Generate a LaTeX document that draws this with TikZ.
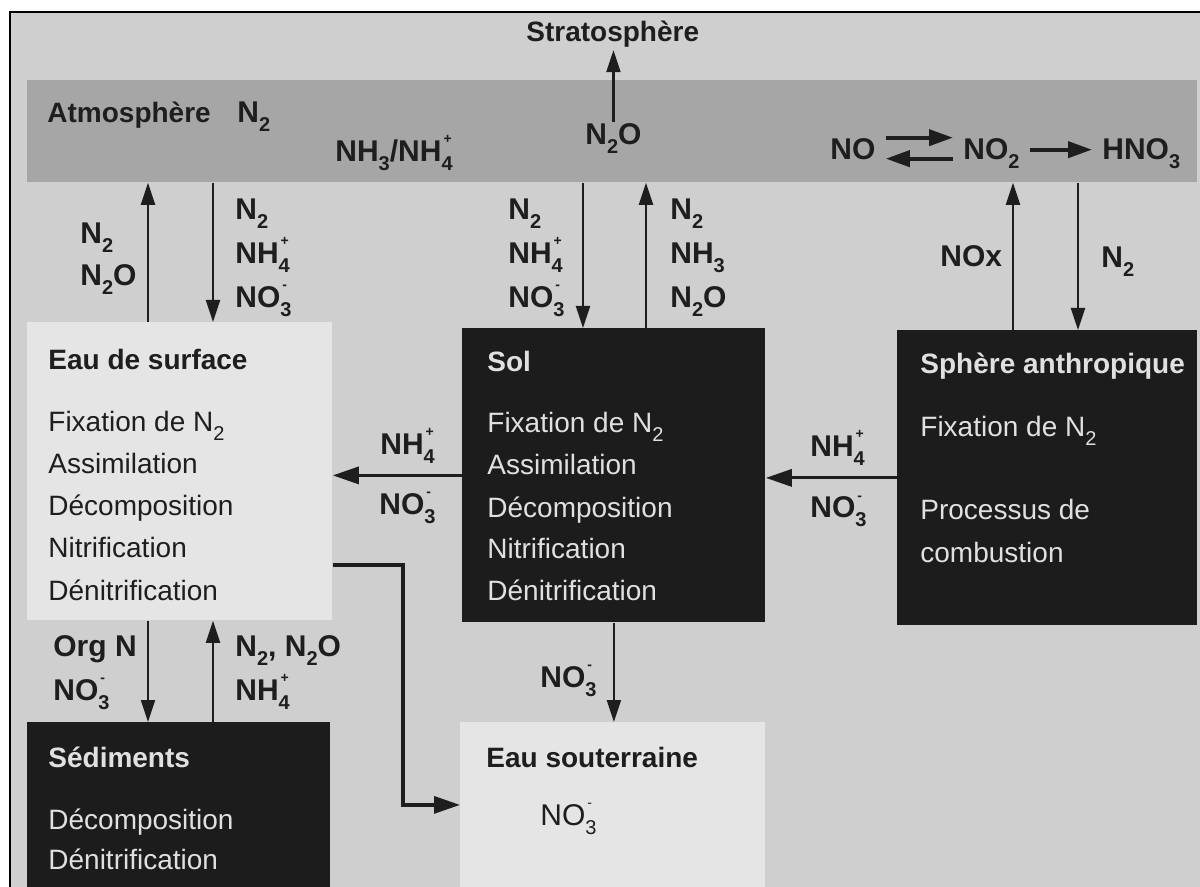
\documentclass[tikz,border=0pt]{standalone}
\usepackage{fontspec}
\setmainfont{Liberation Sans}
\usetikzlibrary{arrows.meta}
\definecolor{PaperGrey}{RGB}{207,207,207}
\definecolor{AirGrey}{RGB}{166,166,166}
\definecolor{WaterPale}{RGB}{229,229,229}
\definecolor{SoilDark}{RGB}{28,28,28}
\definecolor{InkGrey}{RGB}{30,30,30}
\definecolor{ChalkText}{RGB}{224,224,224}
% chemical indices: subscript, and subscript with charge above it
\newcommand{\ssb}[1]{\raisebox{-4.5pt}{\fontsize{10}{11}\selectfont #1}}
\newcommand{\ssbp}[2]{\rlap{\raisebox{9pt}{\fontsize{7}{8}\selectfont\hspace{1pt}#2}}\ssb{#1}}
\tikzset{
  band/.style={fill=AirGrey, anchor=north west, inner sep=0pt},
  palebox/.style={fill=WaterPale, anchor=north west, inner sep=0pt},
  darkbox/.style={fill=SoilDark, anchor=north west, inner sep=0pt},
  boxtxt/.style={anchor=base west, inner sep=0pt, font=\fontsize{14}{17}\selectfont, text=InkGrey},
  boxhead/.style={boxtxt, font=\fontsize{14}{17}\selectfont\bfseries},
  lab/.style={anchor=base west, inner sep=1pt, font=\fontsize{15}{18}\selectfont\bfseries, text=InkGrey},
  head/.style={lab, font=\fontsize{14}{17}\selectfont\bfseries},
  flow/.style={-{Triangle[length=11pt,width=7pt]}, line width=1.1pt, draw=InkGrey},
  sideflow/.style={-{Triangle[length=13pt,width=8.5pt]}, line width=1.6pt, draw=InkGrey},
  eqarr/.style={-{Triangle[length=12pt,width=8pt]}, line width=2pt, draw=InkGrey,
    shorten <=4pt, shorten >=4pt},
}

\begin{document}
\begin{tikzpicture}[x=0.5pt, y=-0.5pt]
  \useasboundingbox (0,0) rectangle (1200,887);
  \fill[white] (0,0) rectangle (1200,887);
  \fill[PaperGrey] (10,12) rectangle (1200,887);
  \draw[line width=1.3pt] (10,887) -- (10,12) -- (1200,12);

  % compartments
  \node[band, minimum width=585pt, minimum height=51pt] (atm) at (27,80) {};
  \node[palebox, minimum width=152.5pt, minimum height=149pt] (surf) at (27,322) {};
  \node[darkbox, minimum width=151.5pt, minimum height=147pt] (sol) at (462,328) {};
  \node[darkbox, minimum width=150pt, minimum height=147.5pt] (anthro) at (897,330) {};
  \node[darkbox, minimum width=151.5pt, minimum height=82.5pt] (sed) at (27,722) {};
  \node[palebox, minimum width=152.5pt, minimum height=82.5pt] (souter) at (460,722) {};

  % atmosphere
  \node[head] (stratlab) at (524,42) {Stratosphère};
  \node[head] (atmlab) at (45,123) {Atmosphère};
  \node[lab] (atmN) at (235,123) {N\ssb{2}};
  \node[lab] (nh3) at (333,162) {NH\ssb{3}/NH\ssbp{4}{+}};
  \node[lab] (n2o) at (583,145) {N\ssb{2}O};
  \node[lab] (no) at (828,160) {NO};
  \node[lab] (no2) at (961,160) {NO\ssb{2}};
  \node[lab] (hno3) at (1100,160) {HNO\ssb{3}};
  \draw[flow] (n2o.north) -- (n2o.north |- stratlab.south);
  \draw[eqarr] ([yshift=6pt]no.east) -- ([yshift=6pt]no.east -| no2.west);
  \draw[eqarr] ([yshift=-4.5pt]no.east -| no2.west) -- ([yshift=-4.5pt]no.east);
  \draw[eqarr] (no.east -| no2.east) -- (no.east -| hno3.west);

  % box contents
  \node[boxhead] (surfT) at (48,370) {Eau de surface};
  \foreach \proc [count=\i] in {Fixation de N\ssb{2}, Assimilation, Décomposition, Nitrification, Dénitrification}
    \node[boxtxt] (surf\i) at (48,{390+42*\i}) {\proc};
  \node[boxhead, text=ChalkText] (solT) at (487,372) {Sol};
  \foreach \proc [count=\i] in {Fixation de N\ssb{2}, Assimilation, Décomposition, Nitrification, Dénitrification}
    \node[boxtxt, text=ChalkText] (sol\i) at (487,{391+42*\i}) {\proc};
  \node[boxhead, text=ChalkText] (anthroT) at (920,374) {Sphère anthropique};
  \node[boxtxt, text=ChalkText] (anthro1) at (920,437) {Fixation de N\ssb{2}};
  \node[boxtxt, text=ChalkText] (anthro2) at (920,520) {Processus de};
  \node[boxtxt, text=ChalkText] (anthro3) at (920,562) {combustion};
  \node[boxhead, text=ChalkText] (sedT) at (48,767) {Sédiments};
  \foreach \proc [count=\i] in {Décomposition, Dénitrification}
    \node[boxtxt, text=ChalkText] (sed\i) at (48,{789+40*\i}) {\proc};
  \node[boxhead] (souterT) at (486,767) {Eau souterraine};
  \node[boxtxt, font=\fontsize{15}{18}\selectfont] (souter1) at (540,825) {NO\ssbp{3}{-}};

  % exchanges with the atmosphere
  \draw[flow] (surf.north -| 148,0) -- (atm.south -| 148,0);
  \draw[flow] (atm.south -| 213,0) -- (surf.north -| 213,0);
  \draw[flow] (atm.south -| 583,0) -- (sol.north -| 583,0);
  \draw[flow] (sol.north -| 646,0) -- (atm.south -| 646,0);
  \draw[flow] (anthro.north -| 1013,0) -- (atm.south -| 1013,0);
  \draw[flow] (atm.south -| 1078,0) -- (anthro.north -| 1078,0);
  \node[lab] (surfup1) at (78,244) {N\ssb{2}};
  \node[lab] (surfup2) at (78,286) {N\ssb{2}O};
  \node[lab] (surfdn1) at (233,220) {N\ssb{2}};
  \node[lab] (surfdn2) at (233,264) {NH\ssbp{4}{+}};
  \node[lab] (surfdn3) at (233,308) {NO\ssbp{3}{-}};
  \node[lab] (soldn1) at (506,220) {N\ssb{2}};
  \node[lab] (soldn2) at (506,264) {NH\ssbp{4}{+}};
  \node[lab] (soldn3) at (506,308) {NO\ssbp{3}{-}};
  \node[lab] (solup1) at (668,220) {N\ssb{2}};
  \node[lab] (solup2) at (668,264) {NH\ssb{3}};
  \node[lab] (solup3) at (668,308) {N\ssb{2}O};
  \node[lab] (anthroup) at (938,267) {NOx};
  \node[lab] (anthrodn) at (1099,268) {N\ssb{2}};

  % lateral flows
  \draw[sideflow] (sol.west) -- (sol.west -| surf.east);
  \draw[sideflow] (anthro.west) -- (anthro.west -| sol.east);
  \node[lab] (solnh) at (378,455) {NH\ssbp{4}{+}};
  \node[lab] (solno) at (377,515) {NO\ssbp{3}{-}};
  \node[lab] (anthronh) at (808,457) {NH\ssbp{4}{+}};
  \node[lab] (anthrono) at (808,518) {NO\ssbp{3}{-}};
  \coordinate (bend) at (403,565);
  \draw[sideflow] (bend -| surf.east) -- (bend) |- (souter.west);
  \draw[flow] (sol.south) -- (sol.south |- souter.north);
  \node[lab] (solleach) at (538,687) {NO\ssbp{3}{-}};

  % sediments
  \draw[flow] (surf.south -| 148,0) -- (sed.north -| 148,0);
  \draw[flow] (sed.north -| 213,0) -- (surf.south -| 213,0);
  \node[lab] (seddn1) at (51,656) {Org N};
  \node[lab] (seddn2) at (51,700) {NO\ssbp{3}{-}};
  \node[lab] (sedup1) at (233,656) {N\ssb{2}, N\ssb{2}O};
  \node[lab] (sedup2) at (233,700) {NH\ssbp{4}{+}};
\end{tikzpicture}
\end{document}
